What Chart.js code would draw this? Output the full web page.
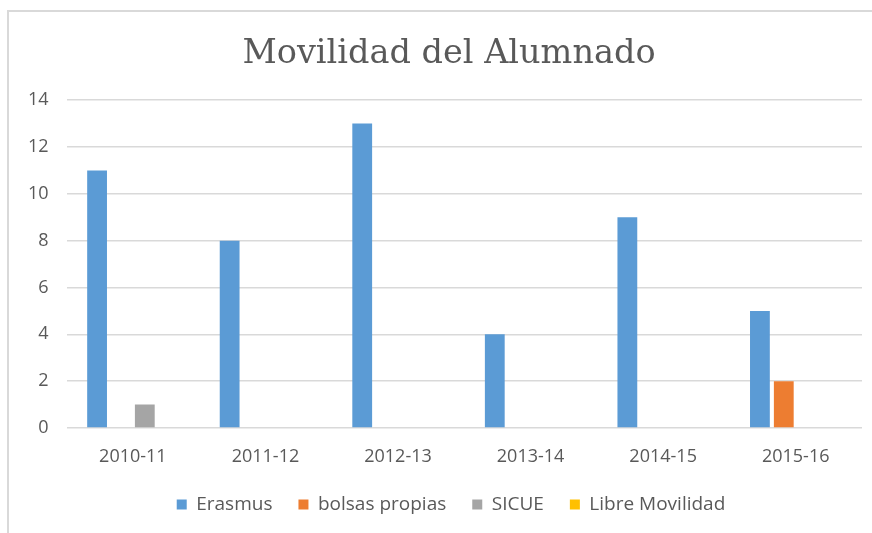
<!DOCTYPE html>
<html lang="es">
<head>
  <meta charset="UTF-8">
  <title>Movilidad del Alumnado</title>
  <script src="https://cdn.jsdelivr.net/npm/chart.js"></script>
  <style>
    body {
      margin: 0;
      background: #fff;
      overflow: hidden;
    }
    #wrap {
      position: relative;
      width: 872px;
      height: 533px;
    }
    #frame {
      position: absolute;
      left: 7px;
      top: 10px;
      width: 900px;
      height: 600px;
      border: 2px solid #d9d9d9;
      box-sizing: border-box;
    }
    #canvas {
      position: absolute;
      left: 0;
      top: 0;
    }
  </style>
</head>
<body>
  <div id="wrap">
    <div id="frame"></div>
    <canvas id="canvas" width="872" height="533"></canvas>
  </div>

  <script>
    const cursos = ["2010-11", "2011-12", "2012-13", "2013-14", "2014-15", "2015-16"];
    const erasmus = [11, 8, 13, 4, 9, 5];
    const bolsasPropias = [0, 0, 0, 0, 0, 2];
    const sicue = [1, 0, 0, 0, 0, 0];
    const libreMovilidad = [0, 0, 0, 0, 0, 0];
    const yTicks = [0, 2, 4, 6, 8, 10, 12, 14];

    const textGrey = "#595959";
    const gridGrey = "#d9d9d9";

    const data = {
      labels: cursos,
      datasets: [
        { label: "Erasmus", backgroundColor: "#5B9BD5", data: erasmus },
        { label: "bolsas propias", backgroundColor: "#ED7D31", data: bolsasPropias },
        { label: "SICUE", backgroundColor: "#A5A5A5", data: sicue },
        { label: "Libre Movilidad", backgroundColor: "#FFC000", data: libreMovilidad }
      ]
    };

    // legend keeps wide gaps between items but a fixed, shorter height;
    // title and legend are nudged right (the original frame is wider than the crop)
    const tweaks = {
      id: "tweaks",
      afterInit(chart) {
        const lg = chart.legend;
        const fit = lg.fit.bind(lg);
        lg.fit = function () {
          fit();
          this.height = 56;
        };
      },
      afterLayout(chart) {
        chart.titleBlock.left += 13;
        chart.titleBlock.right += 13;
        chart.legend.left += 15;
        chart.legend.right += 15;
      }
    };

    const options = {
      responsive: false,
      animation: false,
      datasets: {
        bar: {
          categoryPercentage: 0.72,
          barPercentage: 0.83
        }
      },
      layout: {
        padding: { left: 10, right: 10, top: 34, bottom: 8 }
      },
      plugins: {
        title: {
          display: true,
          text: "Movilidad del Alumnado",
          color: textGrey,
          font: { family: "DejaVu Serif", size: 33.5, weight: "normal" },
          padding: { top: 0, bottom: 26 }
        },
        legend: {
          position: "bottom",
          labels: {
            color: textGrey,
            font: { family: "Open Sans", size: 19 },
            boxWidth: 10,
            boxHeight: 10,
            padding: 26
          }
        },
        tooltip: { enabled: false }
      },
      scales: {
        x: {
          grid: { display: false },
          border: { display: false },
          afterFit: (scale) => {
            scale.height = 41;
          },
          ticks: {
            color: textGrey,
            font: { family: "Open Sans", size: 18 },
            padding: 10
          }
        },
        y: {
          min: 0,
          max: 14,
          afterBuildTicks: (axis) => {
            axis.ticks = yTicks.map(v => ({ value: v }));
          },
          grid: { color: gridGrey, lineWidth: 1.5, drawTicks: false },
          border: { display: false },
          ticks: {
            color: textGrey,
            font: { family: "Open Sans", size: 18 },
            padding: 18
          }
        }
      }
    };

    window.onload = function () {
      const ctx = document.getElementById("canvas").getContext("2d");
      new Chart(ctx, {
        type: "bar",
        data: data,
        options: options,
        plugins: [tweaks]
      });
    };
  </script>
</body>
</html>
